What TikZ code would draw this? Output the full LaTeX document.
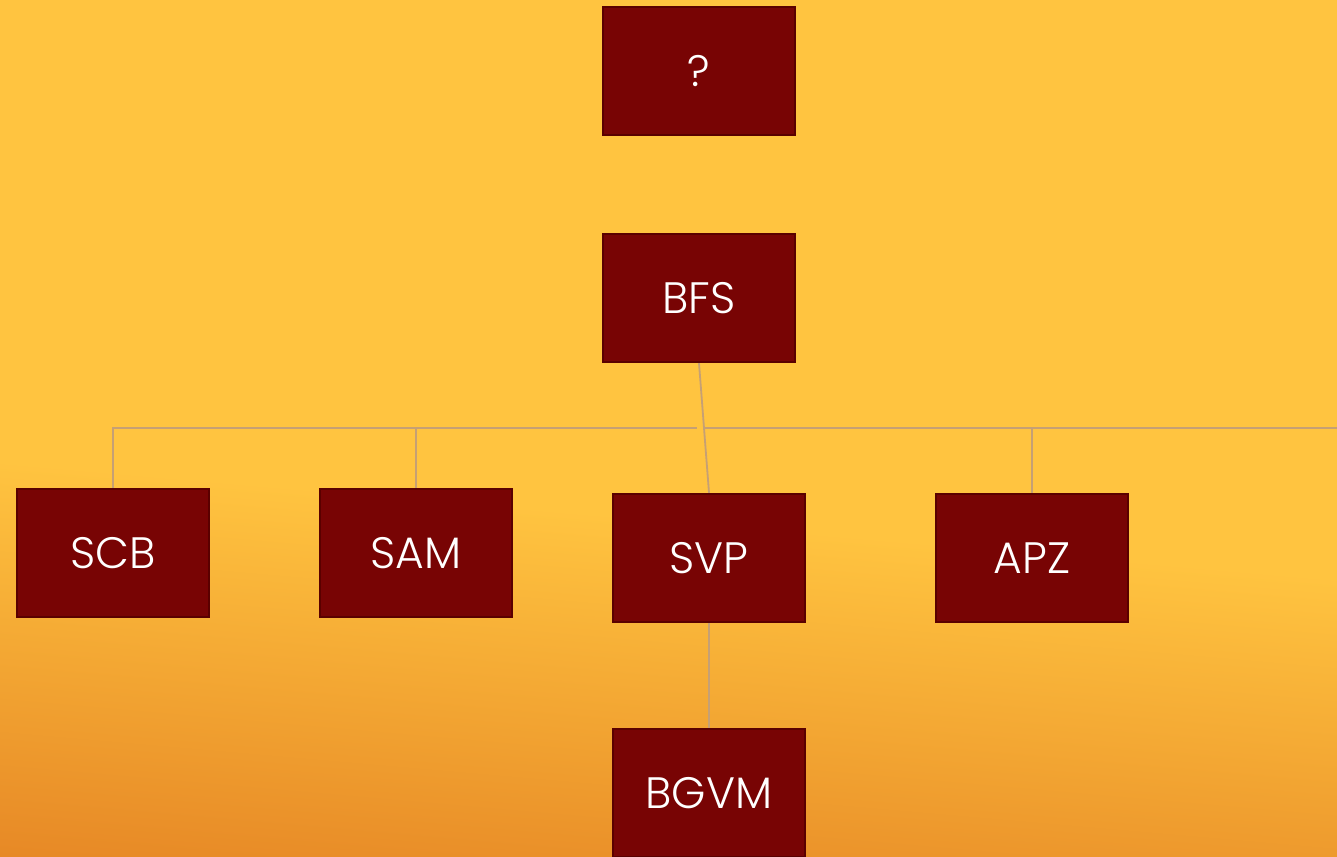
\documentclass[tikz,border=0pt]{standalone}
\usepackage{fontspec}
\IfFontExistsTF{Poppins Light}{\setmainfont{Poppins Light}}{\setmainfont{Poppins}}
\definecolor{bgyellow}{RGB}{255,196,64}
\definecolor{bgorange}{RGB}{222,115,28}
\definecolor{boxfill}{RGB}{120,4,4}
\definecolor{boxedge}{RGB}{90,0,0}
\definecolor{linkcol}{RGB}{198,160,116}
\tikzset{
  orgbox/.style={draw=boxedge, line width=2.4pt, fill=boxfill, minimum width=192pt, minimum height=128pt, inner sep=0pt, text=white, font=\fontsize{44}{50}\selectfont},
  link/.style={draw=linkcol, line width=1.8pt}
}
\begin{document}
\begin{tikzpicture}[x=1pt,y=-1pt]
\useasboundingbox (0,0) rectangle (1337,856);
\fill[bgyellow] (0,0) rectangle (1337,856);
\shade[transform canvas={rotate around={-5:(668,856)}}, top color=bgyellow, bottom color=bgorange] (-400,520) rectangle (1737,1060);
\node[orgbox] (q) at (699,71) {?};
\node[orgbox] (bfs) at (699,298) {BFS};
\node[orgbox] (scb) at (113,553) {SCB};
\node[orgbox] (sam) at (416,553) {SAM};
\node[orgbox] (svp) at (709,558) {SVP};
\node[orgbox] (apz) at (1032,558) {APZ};
\node[orgbox] (bgvm) at (709,793) {BGVM};
\coordinate (hl) at (113,428);
\coordinate (hm1) at (697,428);
\coordinate (hm2) at (704,428);
\coordinate (hr) at (1337,428);
\coordinate (hs) at (416,428);
\coordinate (ha) at (1032,428);
\draw[link] (scb.north) -- (hl) -- (hm1);
\draw[link] (hs) -- (sam.north);
\draw[link] (hm2) -- (hr);
\draw[link] (ha) -- (apz.north);
\draw[link] (bfs.south) -- (svp.north);
\draw[link] (svp.south) -- (bgvm.north);
\end{tikzpicture}
\end{document}
